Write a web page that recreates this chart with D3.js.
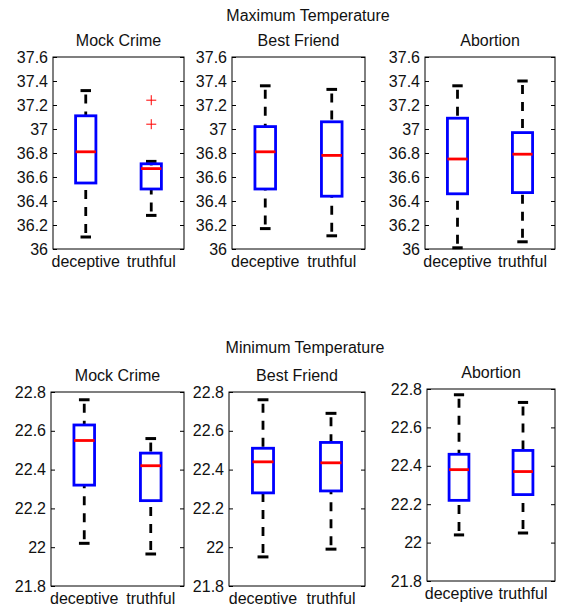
<!DOCTYPE html>
<html>
<head>
<meta charset="utf-8">
<script src="https://cdn.jsdelivr.net/npm/d3@7"></script>
<style>
  body { margin: 0; background: #fff; }
  text { font-family: "Liberation Sans", Arial, sans-serif; fill: #111; }
</style>
</head>
<body>
<script>
const groups = ["deceptive", "truthful"];
const scenarios = ["Mock Crime", "Best Friend", "Abortion"];

// each box: [lower whisker, Q1, median, Q3, upper whisker]
const maxTempStats = [
  [[36.10, 36.55, 36.81, 37.11, 37.32], [36.28, 36.50, 36.67, 36.71, 36.73]],
  [[36.17, 36.50, 36.81, 37.02, 37.36], [36.11, 36.44, 36.78, 37.06, 37.33]],
  [[36.01, 36.46, 36.75, 37.09, 37.36], [36.06, 36.47, 36.79, 36.97, 37.40]]
];
const maxTempOutliers = [[[], [37.24, 37.04]], [[], []], [[], []]];
const maxTicks = [36, 36.2, 36.4, 36.6, 36.8, 37, 37.2, 37.4, 37.6];

const minTempStats = [
  [[22.02, 22.32, 22.55, 22.63, 22.76], [21.965, 22.24, 22.42, 22.485, 22.56]],
  [[21.95, 22.28, 22.44, 22.51, 22.76], [21.99, 22.29, 22.435, 22.54, 22.69]],
  [[22.04, 22.22, 22.38, 22.46, 22.77], [22.05, 22.25, 22.37, 22.48, 22.73]]
];
const minTempOutliers = [[[], []], [[], []], [[], []]];
const minTicks = [21.8, 22, 22.2, 22.4, 22.6, 22.8];

const width = 561;
const height = 604;
const fs = 16;

const svg = d3.select("body")
  .append("svg")
  .attr("width", width)
  .attr("height", height);

// figure titles
svg.append("text")
  .attr("x", 308).attr("y", 21)
  .attr("text-anchor", "middle")
  .attr("font-size", fs)
  .text("Maximum Temperature");

svg.append("text")
  .attr("x", 305).attr("y", 353)
  .attr("text-anchor", "middle")
  .attr("font-size", fs)
  .text("Minimum Temperature");

// axes rectangles [left, right, top, bottom]
const topBoxes = [[53, 184, 57, 249], [232, 365, 57, 249], [425, 555, 57, 249]];
const bottomBoxes = [[51, 184, 392, 586], [229, 365, 392, 586], [427, 555, 389, 581]];

function drawPanel(rect, title, stats, outliers, ticks) {
  const [x0, x1, y0, y1] = rect;
  const g = svg.append("g");

  const x = d3.scaleLinear().domain([0.5, 2.5]).range([x0, x1]);
  const y = d3.scaleLinear().domain([ticks[0], ticks[ticks.length - 1]]).range([y1, y0]);

  // title
  g.append("text")
    .attr("x", (x0 + x1) / 2)
    .attr("y", y0 - 11)
    .attr("text-anchor", "middle")
    .attr("font-size", fs)
    .text(title);

  // y axis left with inward ticks
  const left = g.append("g")
    .attr("transform", `translate(${x0},0)`)
    .call(d3.axisLeft(y).tickValues(ticks).tickSize(-4).tickPadding(5)
      .tickFormat(d3.format("~g")));
  left.select(".domain").remove();
  left.selectAll("text").attr("font-size", fs).attr("fill", "#111")
    .attr("font-family", "Liberation Sans, Arial, sans-serif");
  left.selectAll("line").attr("stroke", "#000");

  // right side ticks
  const right = g.append("g")
    .attr("transform", `translate(${x1},0)`)
    .call(d3.axisRight(y).tickValues(ticks).tickSize(-4).tickFormat(""));
  right.select(".domain").remove();
  right.selectAll("line").attr("stroke", "#000");

  // x labels
  g.selectAll(".xlab")
    .data(groups)
    .enter()
    .append("text")
    .attr("class", "xlab")
    .attr("x", (d, i) => x(i + 1))
    .attr("y", y1 + 18)
    .attr("text-anchor", "middle")
    .attr("font-size", fs)
    .text((d) => d);

  const boxW = x(1.155) - x(1);
  const capW = x(1.08) - x(1);

  stats.forEach((s, i) => {
    const cx = x(i + 1);
    const [lo, q1, med, q3, hi] = s;

    // whiskers
    g.append("line")
      .attr("x1", cx).attr("x2", cx)
      .attr("y1", y(hi) + 4).attr("y2", y(q3))
      .attr("stroke", "#000").attr("stroke-width", 2.8)
      .attr("stroke-dasharray", "9,8");
    g.append("line")
      .attr("x1", cx).attr("x2", cx)
      .attr("y1", y(lo) - 4).attr("y2", y(q1))
      .attr("stroke", "#000").attr("stroke-width", 2.8)
      .attr("stroke-dasharray", "9,8");

    // caps
    [lo, hi].forEach((v) => {
      g.append("line")
        .attr("x1", cx - capW).attr("x2", cx + capW)
        .attr("y1", y(v)).attr("y2", y(v))
        .attr("stroke", "#000").attr("stroke-width", 3);
    });

    // box
    g.append("rect")
      .attr("x", cx - boxW)
      .attr("y", y(q3))
      .attr("width", boxW * 2)
      .attr("height", y(q1) - y(q3))
      .attr("fill", "none")
      .attr("stroke", "#0000ff")
      .attr("stroke-width", 2.8);

    // median
    g.append("line")
      .attr("x1", cx - boxW).attr("x2", cx + boxW)
      .attr("y1", y(med)).attr("y2", y(med))
      .attr("stroke", "#ff0000").attr("stroke-width", 2.8);

    // outliers
    outliers[i].forEach((v) => {
      g.append("path")
        .attr("d", `M${cx - 5},${y(v)}H${cx + 5}M${cx},${y(v) - 5}V${y(v) + 5}`)
        .attr("stroke", "#ff0000")
        .attr("stroke-width", 1);
    });
  });

  // frame
  g.append("rect")
    .attr("x", x0).attr("y", y0)
    .attr("width", x1 - x0).attr("height", y1 - y0)
    .attr("fill", "none")
    .attr("stroke", "#000")
    .attr("stroke-width", 1);
}

scenarios.forEach((name, i) => {
  drawPanel(topBoxes[i], name, maxTempStats[i], maxTempOutliers[i], maxTicks);
  drawPanel(bottomBoxes[i], name, minTempStats[i], minTempOutliers[i], minTicks);
});
</script>
</body>
</html>
